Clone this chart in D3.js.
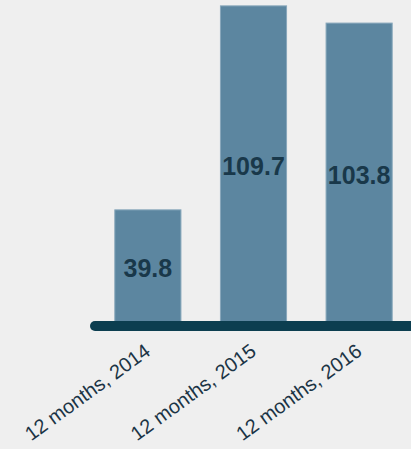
<!DOCTYPE html>
<html lang="en">
<head>
<meta charset="utf-8">
<title>12 months chart</title>
<style>
  body { margin: 0; background: #efefef; }
  svg { display: block; font-family: "Liberation Sans", Arial, sans-serif; }
</style>
</head>
<body>
<svg id="chart"></svg>
<script src="https://d3js.org/d3.v7.min.js"></script>
<script>
const periods = ['12 months, 2014', '12 months, 2015', '12 months, 2016'];
const values = [39.8, 109.7, 103.8];

const [width, height] = [411, 449];

const svg = d3.select('#chart')
  .attr('width', width)
  .attr('height', height);

svg.append('rect')
  .attr('width', width)
  .attr('height', height)
  .attr('fill', '#efefef');

const x = d3.scaleBand()
  .domain(periods)
  .range([95, 412])
  .paddingInner(0.374)
  .paddingOuter(0.1875);

const y = d3.scaleLinear()
  .domain([0, 110])
  .range([326, 5]);

// bars
svg.append('g')
  .selectAll('rect')
  .data(values)
  .enter()
  .append('rect')
  .attr('x', (d, i) => x(periods[i]))
  .attr('y', d => y(d))
  .attr('width', x.bandwidth())
  .attr('height', d => y(0) - y(d))
  .attr('fill', '#5c86a0')
  .attr('stroke', '#88a7bb')
  .attr('stroke-width', 1);

// value labels in the middle of each bar
svg.append('g')
  .selectAll('text')
  .data(values)
  .enter()
  .append('text')
  .attr('x', (d, i) => x(periods[i]) + x.bandwidth() / 2)
  .attr('y', d => (y(d) + y(0)) / 2)
  .attr('text-anchor', 'middle')
  .attr('dominant-baseline', 'central')
  .style('font-size', '25px')
  .style('font-weight', 'bold')
  .attr('fill', '#19384a')
  .text(d => d.toFixed(1));

// thick baseline
svg.append('line')
  .attr('x1', x.range()[0])
  .attr('x2', width + 20)
  .attr('y1', y(0))
  .attr('y2', y(0))
  .attr('stroke', '#0c3e50')
  .attr('stroke-width', 10)
  .attr('stroke-linecap', 'round');

// rotated category labels
svg.append('g')
  .selectAll('text')
  .data(periods)
  .enter()
  .append('text')
  .attr('transform', d => 'translate(' + (x(d) + x.bandwidth() / 2 + 4) + ',354) rotate(-36)')
  .attr('text-anchor', 'end')
  .style('font-size', '20px')
  .attr('fill', '#1b3445')
  .text(d => d);
</script>
</body>
</html>
